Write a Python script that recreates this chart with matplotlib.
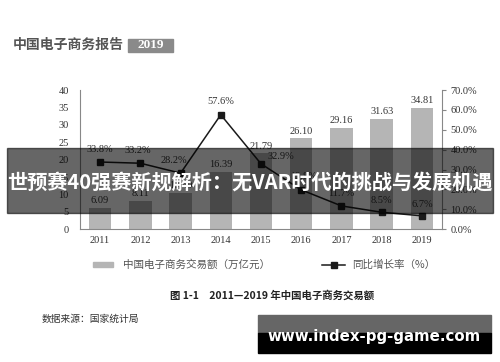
import matplotlib
matplotlib.use("Agg")
import matplotlib.pyplot as plt
from matplotlib.patches import Rectangle
from matplotlib.lines import Line2D

years = ["2011", "2012", "2013", "2014", "2015", "2016", "2017", "2018", "2019"]
volume = [6.09, 8.11, 10.40, 16.39, 21.79, 26.10, 29.16, 31.63, 34.81]
growth = [33.8, 33.2, 28.2, 57.6, 32.9, 19.8, 11.7, 8.5, 6.7]
left_ticks = [0, 5, 10, 15, 20, 25, 30, 35, 40]
right_ticks = [0, 10, 20, 30, 40, 50, 60, 70]

serif = "Liberation Serif"
cjk = ["Noto Sans CJK SC", "DejaVu Sans"]

fig = plt.figure(figsize=(5, 3.62), dpi=100)
fig.patch.set_facecolor("white")

ax = fig.add_axes([0.16, 0.367, 0.724, 0.384])
x = list(range(len(years)))
ax.bar(x, volume, width=0.56, color="#b5b5b5", zorder=1)
ax.set_xlim(-0.5, 8.5)
ax.set_ylim(0, 40)
ax.set_yticks(left_ticks)
ax.set_xticks(x)
ax.set_xticklabels(years)
for t in ax.get_xticklabels() + ax.get_yticklabels():
    t.set_fontfamily(serif)
    t.set_fontsize(7.5)
    t.set_color("#333333")
ax.tick_params(axis="y", length=0, pad=8)
ax.tick_params(axis="x", length=0, pad=5)
ax.spines["top"].set_visible(False)
ax.spines["right"].set_visible(False)
for s in ["left", "bottom"]:
    ax.spines[s].set_color("#888888")
    ax.spines[s].set_linewidth(0.8)

# bar value labels
for i, v in enumerate(volume):
    ax.text(i, v + 0.8, f"{v:.2f}", ha="center", va="bottom",
            fontfamily=serif, fontsize=7.5, color="#333333")

ax2 = ax.twinx()
ax2.plot(x, growth, color="#1a1a1a", lw=1.1, marker="s", ms=4.5, zorder=3)
ax2.set_ylim(0, 70)
ax2.set_yticks(right_ticks)
ax2.set_yticklabels([f"{t:.1f}%" for t in right_ticks])
for t in ax2.get_yticklabels():
    t.set_fontfamily(serif)
    t.set_fontsize(7.5)
    t.set_color("#333333")
ax2.tick_params(axis="y", length=3, color="#888888", pad=3)
ax2.spines["top"].set_visible(False)
ax2.spines["left"].set_visible(False)
ax2.spines["bottom"].set_visible(False)
ax2.spines["right"].set_color("#888888")
ax2.spines["right"].set_linewidth(0.8)

# growth labels (offsets in points)
offsets = [(0, 6), (-2, 6), (-5, 6), (0, 6), (14, 2), (2, 6), (0, 6), (0, 5), (0, 5)]
for i, g in enumerate(growth):
    ax2.annotate(f"{g:.1f}%", (i, g), xytext=offsets[i], textcoords="offset points",
                 ha="center", va="bottom", fontfamily=serif, fontsize=7.5, color="#333333")

# legend
fig.patches.append(Rectangle((93 / 500, 1 - 267 / 362), 20 / 500, 5 / 362,
                             transform=fig.transFigure, color="#b5b5b5"))
fig.text(123 / 500, 1 - 265 / 362, "中国电子商务交易额（万亿元）", fontfamily=cjk,
         fontsize=7.6, color="#555555", va="center")
fig.lines.append(Line2D([322 / 500, 345 / 500], [1 - 265 / 362, 1 - 265 / 362],
                        transform=fig.transFigure, color="#1a1a1a", lw=1.1))
fig.lines.append(Line2D([333.5 / 500], [1 - 265 / 362], transform=fig.transFigure,
                        color="#1a1a1a", marker="s", ms=4.5, ls="none"))
fig.text(352 / 500, 1 - 265 / 362, "同比增长率（%）", fontfamily=cjk,
         fontsize=7.6, color="#555555", va="center")

# header
fig.text(13 / 500, 1 - 45 / 362, "中国电子商务报告", fontfamily=cjk, fontweight="bold",
         fontsize=10, color="#555555", va="center")
fig.patches.append(Rectangle((128 / 500, 1 - 52 / 362), 45 / 500, 13 / 362,
                             transform=fig.transFigure, color="#8a8a8a"))
fig.text(150.5 / 500, 1 - 45.5 / 362, "2019", fontfamily=serif, fontweight="bold",
         fontsize=9.5, color="white", ha="center", va="center")

# caption and source
fig.text(272 / 500, 1 - 295 / 362, "图 1-1　2011—2019 年中国电子商务交易额", fontfamily=cjk,
         fontweight="bold", fontsize=7.5, color="#222222", ha="center", va="center")
fig.text(42 / 500, 1 - 319 / 362, "数据来源：国家统计局", fontfamily=cjk,
         fontsize=7, color="#333333", va="center")

# banner overlay
fig.patches.append(Rectangle((7 / 500, 1 - 213 / 362), 486 / 500, 65 / 362,
                             transform=fig.transFigure, color="black", alpha=0.6, zorder=10))
fig.text(250 / 500, 1 - 182 / 362, "世预赛40强赛新规解析：无VAR时代的挑战与发展机遇",
         fontfamily=cjk, fontweight="bold", fontsize=14.5, color="white",
         ha="center", va="center", zorder=11)

# watermark
fig.patches.append(Rectangle((258 / 500, 1 - 333 / 362), 233 / 500, 18 / 362,
                             transform=fig.transFigure, color="#666666", zorder=10))
fig.patches.append(Rectangle((258 / 500, 1 - 353 / 362), 233 / 500, 20 / 362,
                             transform=fig.transFigure, color="black", zorder=10))
fig.text(374 / 500, 1 - 337 / 362, "www.index-pg-game.com", fontfamily="DejaVu Sans",
         fontweight="bold", fontsize=10.8, color="white", ha="center", va="center", zorder=11)

fig.savefig("out.png", dpi=100)
